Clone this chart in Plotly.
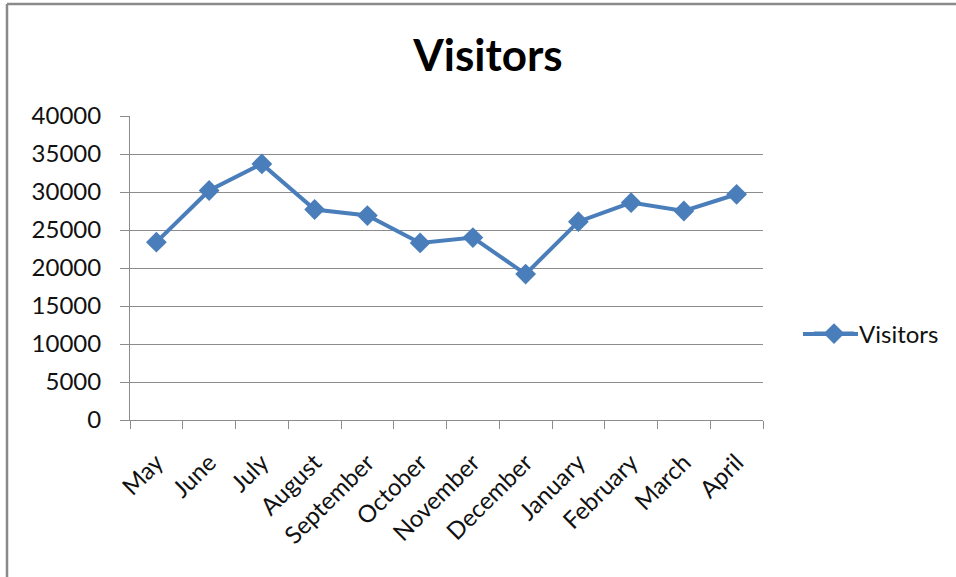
import plotly.graph_objects as go

months = ["May", "June", "July", "August", "September", "October", "November",
          "December", "January", "February", "March", "April"]
visitors = [23400, 30200, 33700, 27700, 26900, 23300, 24000, 19200, 26100, 28600, 27500, 29700]
y_ticks = [0, 5000, 10000, 15000, 20000, 25000, 30000, 35000, 40000]

W, H = 956, 577
L, R, T, B = 130, 193, 116, 157
pw, ph = W - L - R, H - T - B

def px_x(x):
    return (x - L) / pw

def px_y(y):
    return 1 - (y - T) / ph

font = "Lato, 'Open Sans', sans-serif"
blue = "#4a7ebb"
grey = "#8c8c8c"

fig = go.Figure()
fig.add_trace(go.Scatter(
    x=months, y=visitors, mode="lines+markers", name="Visitors",
    line=dict(color=blue, width=4),
    marker=dict(symbol="diamond", size=16, color=blue),
))

# extended legend line (Excel-style longer legend key)
fig.add_shape(type="line", xref="paper", yref="paper",
              x0=px_x(803), x1=px_x(858), y0=px_y(334), y1=px_y(334),
              line=dict(color=blue, width=4))

fig.update_layout(
    width=W, height=H,
    margin=dict(l=L, r=R, t=T, b=B, autoexpand=False),
    paper_bgcolor="white", plot_bgcolor="white",
    font=dict(family=font, size=22, color="#111"),
    title=dict(text="<b>Visitors</b>", x=488 / W, xanchor="center",
               y=1 - 56 / H, yanchor="middle",
               font=dict(family=font, size=44, color="#000")),
    showlegend=True,
    legend=dict(x=px_x(809), y=px_y(334), xanchor="left", yanchor="middle",
                font=dict(family=font, size=24, color="#111"),
                bgcolor="rgba(0,0,0,0)", itemwidth=40),
    xaxis=dict(
        type="category", tickangle=-45, showgrid=False,
        showline=True, linecolor=grey, linewidth=1,
        ticks="outside", ticklen=8, tickcolor=grey, tickson="boundaries",
        tickfont=dict(family=font, size=24, color="#111"),
        ticklabelstandoff=18,
        range=[-0.5, 11.5],
    ),
    yaxis=dict(
        range=[0, 40000], tickvals=y_ticks,
        ticktext=[str(v) for v in y_ticks],
        showgrid=True, gridcolor=grey, gridwidth=1,
        showline=True, linecolor=grey, linewidth=1,
        ticks="outside", ticklen=9, tickcolor=grey,
        tickfont=dict(family=font, size=24, color="#111"),
        ticklabelstandoff=14,
        zeroline=False,
    ),
)

# outer chart frame (left and top edges visible)
fig.add_shape(type="line", xref="paper", yref="paper",
              x0=px_x(7), x1=px_x(7), y0=px_y(4), y1=px_y(H + 5),
              line=dict(color="#8a8a8a", width=2.5))
fig.add_shape(type="line", xref="paper", yref="paper",
              x0=px_x(7), x1=px_x(W + 5), y0=px_y(4), y1=px_y(4),
              line=dict(color="#8a8a8a", width=2.5))

fig.write_html("out.html", config={"displayModeBar": False},
               post_script="document.body.style.margin='0';")
